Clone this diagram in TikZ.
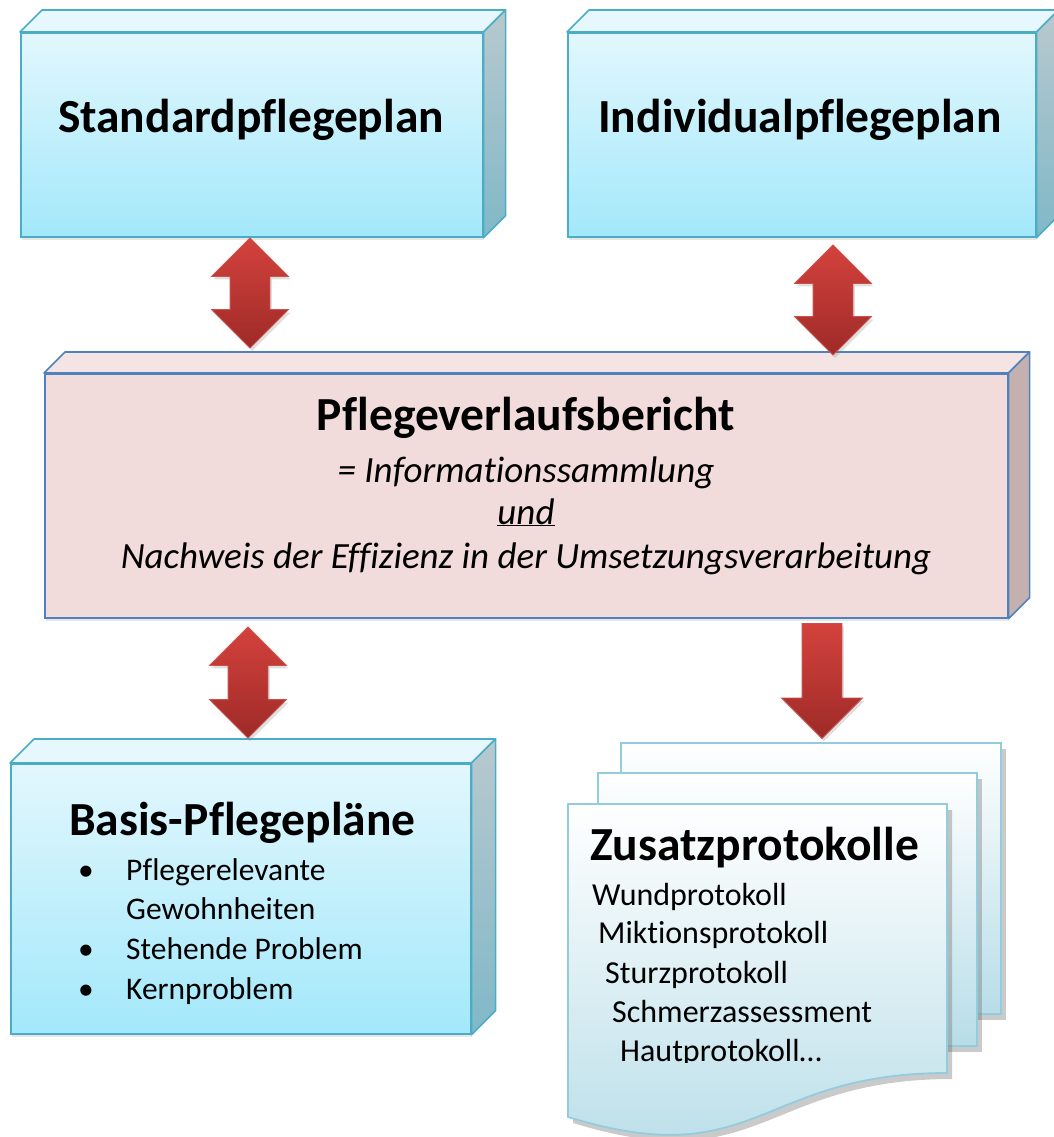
\documentclass[tikz,border=0pt]{standalone}
\usepackage{fontspec}
\setmainfont{Carlito}[Ligatures=NoCommon]
\usetikzlibrary{shapes.arrows,shadows}

\definecolor{boxline}{HTML}{4BACC6}
\definecolor{bluetop}{HTML}{E2F7FD}
\definecolor{bluebot}{HTML}{A3E8FB}
\definecolor{bluelid}{HTML}{E6F8FD}
\definecolor{bluesidetop}{HTML}{B8C9CE}
\definecolor{bluesidebot}{HTML}{80B8C8}
\definecolor{pinkline}{HTML}{4F81BD}
\definecolor{pinkfront}{HTML}{F2DCDB}
\definecolor{pinklid}{HTML}{F4E5E4}
\definecolor{pinkside}{HTML}{C4B1AF}
\definecolor{arrowtop}{HTML}{D4423D}
\definecolor{arrowbot}{HTML}{9E2A27}
\definecolor{arrowline}{HTML}{C9514C}
\definecolor{pageline}{HTML}{93CDDD}
\definecolor{pagebot}{HTML}{B7DDE8}

\begin{document}
\begin{tikzpicture}[x=1pt,y=-1pt]
  \tikzstyle{bluebox}=[draw=boxline,line width=1.6pt,top color=bluetop,bottom color=bluebot,inner sep=0pt,anchor=north west,drop shadow={opacity=0.2,shadow xshift=1pt,shadow yshift=-3pt}]
  \tikzstyle{bluelidface}=[draw=boxline,line width=1.6pt,fill=bluelid,line join=round]
  \tikzstyle{bluesideface}=[draw=boxline,line width=1.6pt,top color=bluesidetop,bottom color=bluesidebot,line join=round]
  \tikzstyle{pinkbox}=[draw=pinkline,line width=1.6pt,fill=pinkfront,inner sep=0pt,anchor=north west,drop shadow={opacity=0.2,shadow xshift=1pt,shadow yshift=-3pt}]
  \tikzstyle{pinklidface}=[draw=pinkline,line width=1.6pt,fill=pinklid,line join=round]
  \tikzstyle{pinksideface}=[draw=pinkline,line width=1.6pt,fill=pinkside,line join=round]
  \tikzstyle{redarrow}=[draw=arrowline,line width=0.8pt,top color=arrowtop,bottom color=arrowbot,inner xsep=19.5pt,inner ysep=0pt,shape border rotate=90,drop shadow={opacity=0.25,shadow xshift=2pt,shadow yshift=-3pt}]
  \tikzstyle{page}=[draw=pageline,line width=1.8pt,top color=white,bottom color=pagebot,drop shadow={opacity=0.35,fill=black!60,shadow xshift=5pt,shadow yshift=-6pt}]
  \tikzstyle{headtext}=[font=\fontsize{47.5}{57}\selectfont\bfseries,inner sep=0pt]
  \tikzstyle{listtext}=[font=\fontsize{31.5}{38}\selectfont,inner sep=0pt,anchor=base west]
  \tikzstyle{prottext}=[font=\fontsize{32}{38}\selectfont,inner sep=0pt,anchor=base west]
  \tikzstyle{subtext}=[font=\fontsize{37}{44}\selectfont\itshape,inner sep=0pt,anchor=base]

  \useasboundingbox (0,0) rectangle (1053,1137);

  % boxes
  \node[bluebox,minimum width=462,minimum height=204] (std) at (20,32) {};
  \draw[bluelidface] (std.north west) -- ++(22,-22) -- ([shift={(22,-22)}]std.north east) -- (std.north east) -- cycle;
  \draw[bluesideface] (std.north east) -- ++(22,-22) -- ([shift={(22,-22)}]std.south east) -- (std.south east) -- cycle;
  \node[headtext,anchor=base] (stdtext) at (251,132) {Standardpflegeplan};

  \node[bluebox,minimum width=468,minimum height=204] (ind) at (567,32) {};
  \draw[bluelidface] (ind.north west) -- ++(22,-22) -- ([shift={(22,-22)}]ind.north east) -- (ind.north east) -- cycle;
  \draw[bluesideface] (ind.north east) -- ++(22,-22) -- ([shift={(22,-22)}]ind.south east) -- (ind.south east) -- cycle;
  \node[headtext,anchor=base] (indtext) at (800,132) {Individualpflegeplan};

  \node[pinkbox,minimum width=963,minimum height=244] (pvb) at (44,373) {};
  \draw[pinklidface] (pvb.north west) -- ++(21,-21) -- ([shift={(21,-21)}]pvb.north east) -- (pvb.north east) -- cycle;
  \draw[pinksideface] (pvb.north east) -- ++(21,-21) -- ([shift={(21,-21)}]pvb.south east) -- (pvb.south east) -- cycle;
  \node[headtext,anchor=base] (pvbtitle) at (526,430) {Pflegeverlaufsbericht};
  \node[subtext] (pvbinfo) at (526,482) {= Informationssammlung};
  \node[subtext] (pvbund) at (526,524) {\underline{und}};
  \node[subtext] (pvbnachweis) at (526,568) {Nachweis der Effizienz in der Umsetzungsverarbeitung};

  \node[bluebox,minimum width=460,minimum height=270] (basis) at (10,763) {};
  \draw[bluelidface] (basis.north west) -- ++(24,-24) -- ([shift={(24,-24)}]basis.north east) -- (basis.north east) -- cycle;
  \draw[bluesideface] (basis.north east) -- ++(24,-24) -- ([shift={(24,-24)}]basis.south east) -- (basis.south east) -- cycle;
  \node[headtext,anchor=base west] (basistitle) at (69,835) {Basis-Pflegepläne};
  \foreach \y/\txt/\bul in {880/Pflegerelevante/1, 919/Gewohnheiten/0, 959/Stehende Problem/1, 999/Kernproblem/1} {
    \node[listtext] (b\y) at (126,\y) {\txt};
    \ifnum\bul=1 \node[listtext,anchor=base] (dot\y) at (86,\y) {•}; \fi
  }

  % document stack
  \node[page,anchor=north west,minimum width=380,minimum height=271,inner sep=0pt] (pg3) at (620,742) {};
  \node[page,anchor=north west,minimum width=379,minimum height=273,inner sep=0pt] (pg2) at (597,772) {};
  \coordinate (pg1nw) at (568,804);
  \coordinate (pg1ne) at (947,804);
  \coordinate (pg1se) at (947,1073);
  \coordinate (pg1sw) at (568,1117);
  \draw[page] (pg1nw) -- (pg1ne) -- (pg1se) .. controls (757.5,1073) and (757.5,1175) .. (pg1sw) -- cycle;
  \node[headtext,anchor=base west] (zusatz) at (590,860) {Zusatzprotokolle};
  \begin{scope}
    \clip (560,860) rectangle (950,1062);
    \node[prottext] (p1) at (592,905) {Wundprotokoll};
    \node[prottext] (p2) at (598,943) {Miktionsprotokoll};
    \node[prottext] (p3) at (605,983) {Sturzprotokoll};
    \node[prottext] (p4) at (612,1022) {Schmerzassessment};
    \node[prottext] (p5) at (620,1061) {Hautprotokoll…};
  \end{scope}

  % arrows
  \node[redarrow,double arrow,minimum height=110,minimum width=76,double arrow head extend=18.5] (a1) at (250,293) {};
  \node[redarrow,double arrow,minimum height=110,minimum width=76,double arrow head extend=18.5] (a2) at (833,300) {};
  \node[redarrow,double arrow,minimum height=111,minimum width=76,double arrow head extend=18.5] (a3) at (248,682.5) {};
  \node[redarrow,single arrow,shape border rotate=270,minimum height=115,minimum width=80,single arrow head extend=20.5] (a4) at (822,671) {};

\end{tikzpicture}
\end{document}
